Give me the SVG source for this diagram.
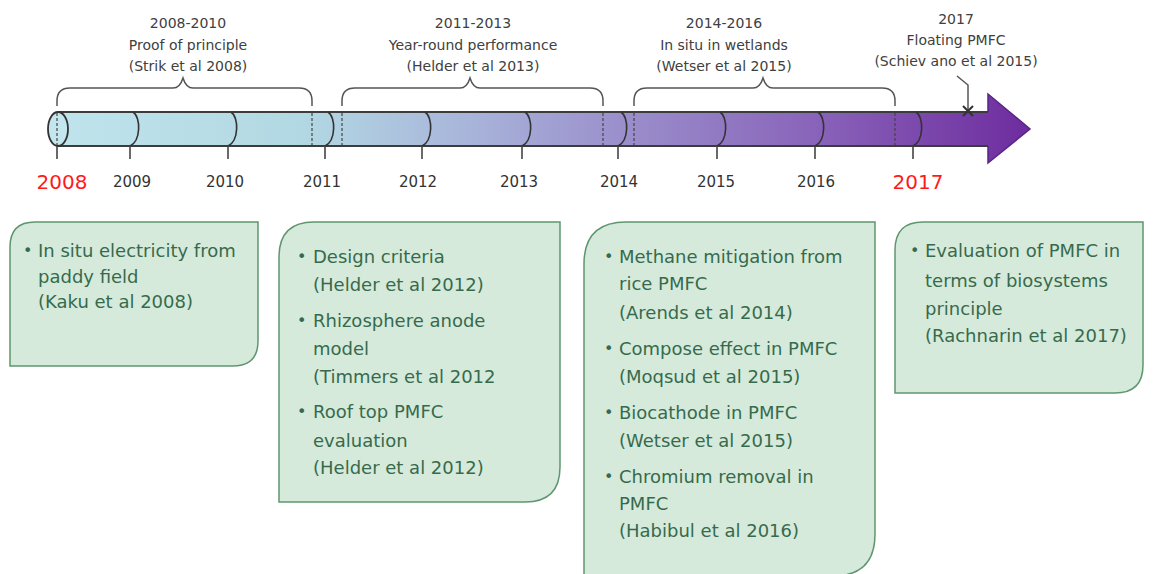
<svg xmlns="http://www.w3.org/2000/svg" width="1157" height="574" viewBox="0 0 1157 574">
  <defs>
    <linearGradient id="barFill" gradientUnits="userSpaceOnUse" x1="48" y1="0" x2="1030" y2="0">
      <stop offset="0" stop-color="#c0e4ec"/>
      <stop offset="0.26" stop-color="#b2d8e3"/>
      <stop offset="0.43" stop-color="#a8b4da"/>
      <stop offset="0.58" stop-color="#9b90cc"/>
      <stop offset="0.77" stop-color="#8a66bb"/>
      <stop offset="1" stop-color="#6e2c9e"/>
    </linearGradient>
    <style>
      text { font-family: "DejaVu Sans", "Liberation Sans", sans-serif; }
      .period { font-size: 14px; fill: #404040; text-anchor: middle; }
      .year { font-size: 15px; fill: #333333; text-anchor: middle; }
      .year-key { font-size: 20px; fill: #ff1a1a; text-anchor: middle; }
      .brace { fill: none; stroke: #555555; stroke-width: 1.5; }
      .edge { fill: none; stroke: #3c3c3c; stroke-width: 2; }
      .seg { fill: none; stroke: #333333; stroke-width: 1.6; }
      .dash { fill: none; stroke: #444444; stroke-width: 1.2; stroke-dasharray: 3 2; }
      .tick { stroke: #444444; stroke-width: 1.6; }
      .card { fill: #d5eadb; stroke: #5f9670; stroke-width: 1.5; }
      .card-text { font-size: 18px; fill: #376a4c; }
      .bullet { font-size: 16px; fill: #376a4c; }
    </style>
  </defs>

  <rect width="1157" height="574" fill="#ffffff"/>

  <!-- timeline arrow -->
  <g id="timeline">
    <path d="M58,112 L988,112 L988,94 L1030,129 L988,163 L988,146 L58,146 Z" fill="url(#barFill)"/>
    <path d="M988,112 L988,94 L1030,129 L988,163 L988,146" fill="none" stroke="#5a2585" stroke-width="1.5"/>
    <line class="edge" x1="58" y1="112" x2="988" y2="112"/>
    <line class="edge" x1="58" y1="146" x2="988" y2="146"/>
    <ellipse cx="58" cy="129" rx="10" ry="17" fill="#c4e6ee" stroke="#333333" stroke-width="1.8"/>
    <line class="dash" x1="57" y1="113" x2="57" y2="145"/>
    <!-- segment boundaries at each year -->
    <path class="seg" d="M133,112 C141,117 141,141 130,146"/>
    <path class="seg" d="M231,112 C239,117 239,141 228,146"/>
    <path class="seg" d="M328,112 C336,117 336,141 325,146"/>
    <path class="seg" d="M425,112 C433,117 433,141 422,146"/>
    <path class="seg" d="M525,112 C533,117 533,141 522,146"/>
    <path class="seg" d="M621,112 C629,117 629,141 618,146"/>
    <path class="seg" d="M720,112 C728,117 728,141 717,146"/>
    <path class="seg" d="M818,112 C826,117 826,141 815,146"/>
    <path class="seg" d="M916,112 C924,117 924,141 913,146"/>
    <!-- period boundaries -->
    <line class="dash" x1="312" y1="113" x2="312" y2="145"/>
    <line class="dash" x1="342" y1="113" x2="342" y2="145"/>
    <line class="dash" x1="603" y1="113" x2="603" y2="145"/>
    <line class="dash" x1="634" y1="113" x2="634" y2="145"/>
    <line class="dash" x1="895" y1="113" x2="895" y2="145"/>
    <!-- year ticks -->
    <line class="tick" x1="57" y1="146" x2="57" y2="159"/>
    <line class="tick" x1="130" y1="146" x2="130" y2="159"/>
    <line class="tick" x1="228" y1="146" x2="228" y2="159"/>
    <line class="tick" x1="325" y1="146" x2="325" y2="159"/>
    <line class="tick" x1="422" y1="146" x2="422" y2="159"/>
    <line class="tick" x1="522" y1="146" x2="522" y2="159"/>
    <line class="tick" x1="618" y1="146" x2="618" y2="159"/>
    <line class="tick" x1="717" y1="146" x2="717" y2="159"/>
    <line class="tick" x1="815" y1="146" x2="815" y2="159"/>
    <line class="tick" x1="913" y1="146" x2="913" y2="159"/>
    <!-- year labels -->
    <text class="year-key" x="62" y="189">2008</text>
    <text class="year" x="132" y="187">2009</text>
    <text class="year" x="225" y="187">2010</text>
    <text class="year" x="322" y="187">2011</text>
    <text class="year" x="418" y="187">2012</text>
    <text class="year" x="519" y="187">2013</text>
    <text class="year" x="619" y="187">2014</text>
    <text class="year" x="716" y="187">2015</text>
    <text class="year" x="816" y="187">2016</text>
    <text class="year-key" x="918" y="189">2017</text>
  </g>

  <!-- period braces and captions -->
  <g id="period-2008-2010">
    <path class="brace" d="M57,106 L57,101 Q57,88 70,88 L173,88 Q180,88 183,78 Q186,88 193,88 L299,88 Q312,88 312,101 L312,106"/>
    <text class="period" x="188" y="28">2008-2010</text>
    <text class="period" x="188" y="50">Proof of principle</text>
    <text class="period" x="188" y="71">(Strik et al 2008)</text>
  </g>
  <g id="period-2011-2013">
    <path class="brace" d="M342,106 L342,101 Q342,88 355,88 L460,88 Q467,88 470,78 Q473,88 480,88 L590,88 Q603,88 603,101 L603,106"/>
    <text class="period" x="473" y="28">2011-2013</text>
    <text class="period" x="473" y="50">Year-round performance</text>
    <text class="period" x="473" y="71">(Helder et al 2013)</text>
  </g>
  <g id="period-2014-2016">
    <path class="brace" d="M634,106 L634,101 Q634,88 647,88 L753,88 Q760,88 763,78 Q766,88 773,88 L882,88 Q895,88 895,101 L895,106"/>
    <text class="period" x="724" y="28">2014-2016</text>
    <text class="period" x="724" y="50">In situ in wetlands</text>
    <text class="period" x="724" y="71">(Wetser et al 2015)</text>
  </g>
  <g id="period-2017">
    <path fill="none" stroke="#555555" stroke-width="1.5" d="M957,76 L968,85 L968,111"/>
    <path fill="none" stroke="#333333" stroke-width="2" d="M963,106 L973,116 M973,106 L963,116"/>
    <text class="period" x="956" y="24">2017</text>
    <text class="period" x="956" y="45">Floating PMFC</text>
    <text class="period" x="956" y="66">(Schiev ano et al 2015)</text>
  </g>

  <!-- milestone cards -->
  <g id="card-2008">
    <path class="card" d="M35,222 L258,222 L258,341 Q258,366 233,366 L10,366 L10,247 Q10,222 35,222 Z"/>
    <text class="bullet" x="23" y="256">•</text>
    <text class="card-text" x="38" y="257">In situ electricity from</text>
    <text class="card-text" x="38" y="283">paddy field</text>
    <text class="card-text" x="38" y="308">(Kaku et al 2008)</text>
  </g>

  <g id="card-2011-2013">
    <path class="card" d="M314,222 L560,222 L560,467 Q560,502 525,502 L279,502 L279,257 Q279,222 314,222 Z"/>
    <text class="bullet" x="297" y="262">•</text>
    <text class="card-text" x="313" y="263">Design criteria</text>
    <text class="card-text" x="313" y="291">(Helder et al 2012)</text>
    <text class="bullet" x="297" y="326">•</text>
    <text class="card-text" x="313" y="327">Rhizosphere anode</text>
    <text class="card-text" x="313" y="355">model</text>
    <text class="card-text" x="313" y="383">(Timmers et al 2012</text>
    <text class="bullet" x="297" y="417">•</text>
    <text class="card-text" x="313" y="418">Roof top PMFC</text>
    <text class="card-text" x="313" y="447">evaluation</text>
    <text class="card-text" x="313" y="474">(Helder et al 2012)</text>
  </g>

  <g id="card-2014-2016">
    <path class="card" d="M626,222 L875,222 L875,534 Q875,576 833,576 L584,576 L584,264 Q584,222 626,222 Z"/>
    <text class="bullet" x="604" y="262">•</text>
    <text class="card-text" x="619" y="263">Methane mitigation from</text>
    <text class="card-text" x="619" y="290">rice PMFC</text>
    <text class="card-text" x="619" y="319">(Arends et al 2014)</text>
    <text class="bullet" x="604" y="354">•</text>
    <text class="card-text" x="619" y="355">Compose effect in PMFC</text>
    <text class="card-text" x="619" y="383">(Moqsud et al 2015)</text>
    <text class="bullet" x="604" y="418">•</text>
    <text class="card-text" x="619" y="419">Biocathode in PMFC</text>
    <text class="card-text" x="619" y="447">(Wetser et al 2015)</text>
    <text class="bullet" x="604" y="482">•</text>
    <text class="card-text" x="619" y="483">Chromium removal in</text>
    <text class="card-text" x="619" y="510">PMFC</text>
    <text class="card-text" x="619" y="537">(Habibul et al 2016)</text>
  </g>

  <g id="card-2017">
    <path class="card" d="M923,222 L1143,222 L1143,365 Q1143,393 1115,393 L895,393 L895,250 Q895,222 923,222 Z"/>
    <text class="bullet" x="910" y="256">•</text>
    <text class="card-text" x="925" y="257">Evaluation of PMFC in</text>
    <text class="card-text" x="925" y="287">terms of biosystems</text>
    <text class="card-text" x="925" y="315">principle</text>
    <text class="card-text" x="925" y="342">(Rachnarin et al 2017)</text>
  </g>
</svg>
